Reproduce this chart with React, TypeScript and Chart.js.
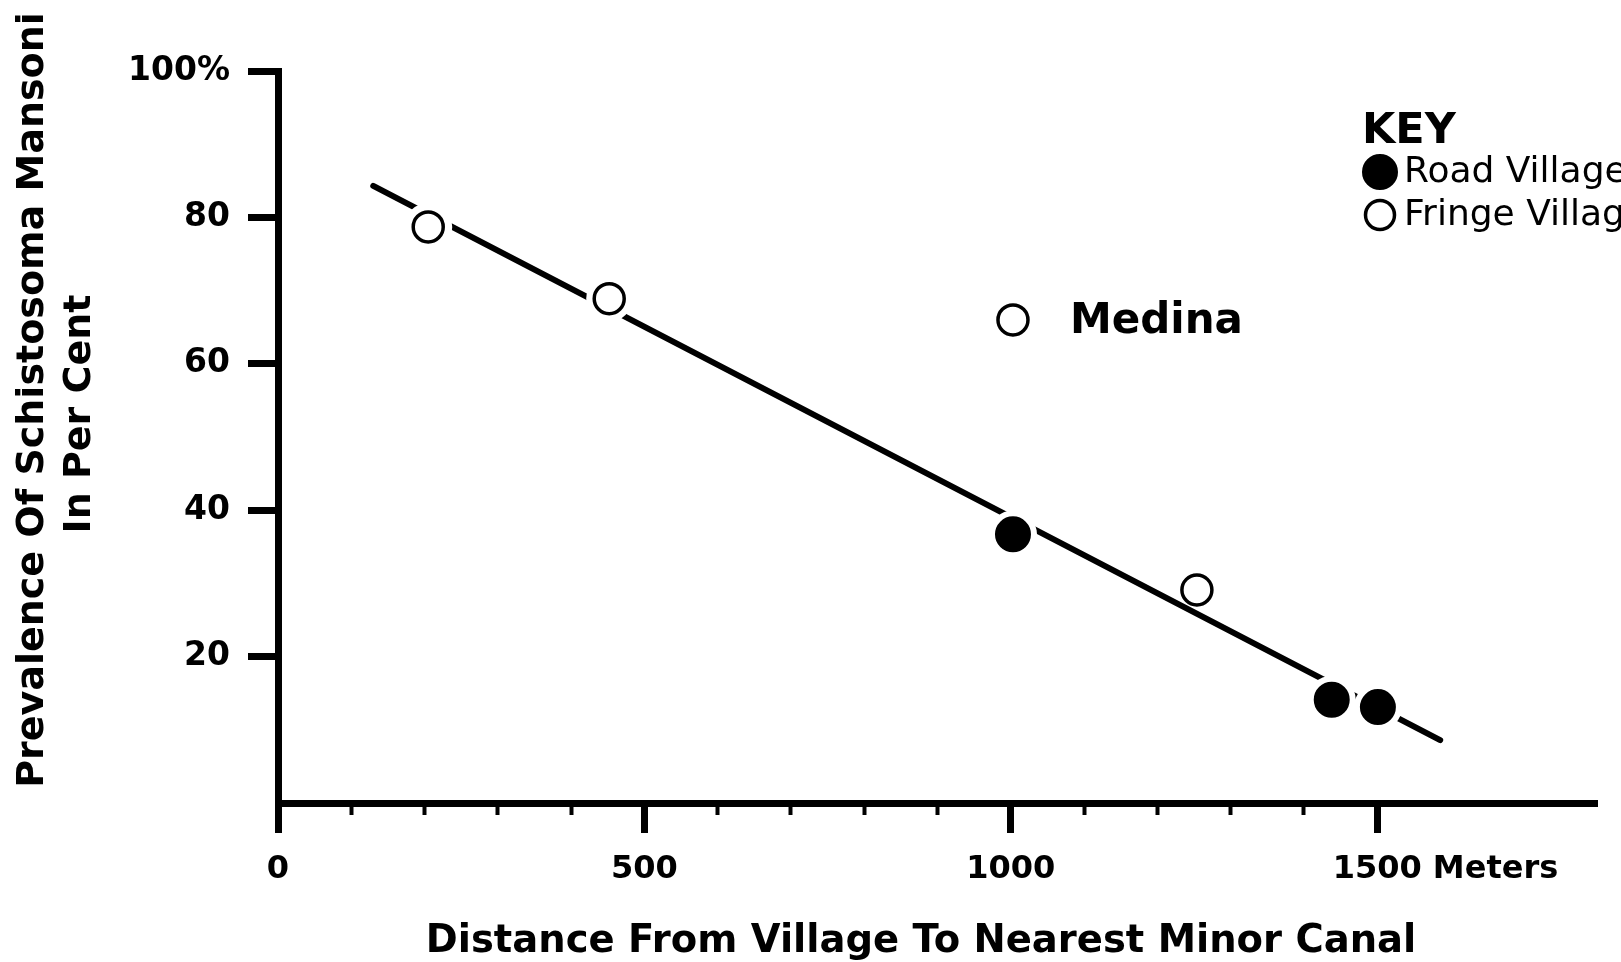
import React, { useEffect, useRef } from "react";
import { Chart, registerables } from "chart.js";

Chart.register(...registerables);

// ---- data ----
const fringeX = [205, 452, 1003, 1254];
const fringeY = [78.7, 68.9, 66.0, 29.1];
const roadX = [1003, 1438, 1501];
const roadY = [36.7, 14.1, 13.1];
const trendX = [130, 1586];
const trendY = [84.3, 8.6];
// halo radius (gap in the trend line) for each fringe point
const fringeGap = [24, 23, 0, 0];

const seriesLabels = ["Road Village", "Fringe Village"];
const xMajorTicks = [0, 500, 1000, 1500];
const xMinorStep = 100;
const yTickValues = [20, 40, 60, 80, 100];
const yTickLabels = ["20", "40", "60", "80", "100%"];
const xUnitTick = 1500;
const xUnit = "Meters";
const medinaIndex = 2;
const medinaLabel = "Medina";
const keyTitle = "KEY";
const xTitle = "Distance From Village To Nearest Minor Canal";
const yTitle = ["Prevalence Of Schistosoma Mansoni", "In Per Cent"];

const FONT = '"DejaVu Sans"';
const X_TICK_SIZE = 32;
const X_TICK_PAD = 17;

const toPts = (xs: number[], ys: number[]) => xs.map((x, i) => ({ x, y: ys[i] }));

const textPlugin = {
  id: "textPlugin",
  afterDraw(chart: any) {
    const { ctx } = chart;
    const xs = chart.scales.x;
    const ys = chart.scales.y;
    ctx.save();
    ctx.fillStyle = "#000";

    // unit after 1500
    ctx.font = `bold ${X_TICK_SIZE}px ${FONT}`;
    ctx.textBaseline = "middle";
    ctx.textAlign = "left";
    const px = xs.getPixelForValue(xUnitTick);
    const w = ctx.measureText(String(xUnitTick)).width;
    const ly = xs.top + 30 + X_TICK_PAD + (X_TICK_SIZE * 1.2) / 2;
    ctx.fillText(" " + xUnit, px + w / 2, ly);

    // Medina label
    ctx.font = `bold 42px ${FONT}`;
    ctx.fillText(
      medinaLabel,
      xs.getPixelForValue(fringeX[medinaIndex]) + 57,
      ys.getPixelForValue(fringeY[medinaIndex]) + 2
    );

    // x title
    ctx.textAlign = "center";
    ctx.textBaseline = "alphabetic";
    ctx.font = `bold 38.5px ${FONT}`;
    ctx.fillText(xTitle, 921, 952);

    // y title (rotated)
    ctx.font = `bold 38px ${FONT}`;
    const yCenters = [400, 414];
    const yBase = [43, 90];
    yTitle.forEach((t, i) => {
      ctx.save();
      ctx.translate(yBase[i], yCenters[i]);
      ctx.rotate(-Math.PI / 2);
      ctx.fillText(t, 0, 0);
      ctx.restore();
    });

    // KEY
    ctx.textAlign = "left";
    ctx.font = `bold 43px ${FONT}`;
    ctx.fillText(keyTitle, 1362, 143);

    const keyItems = chart.data.datasets.filter((d: any) => d.inKey);
    const rowY = [172, 215];
    ctx.font = `36px ${FONT}`;
    keyItems.forEach((d: any, i: number) => {
      const cy = rowY[i];
      ctx.beginPath();
      ctx.arc(1380, cy, d.keyRadius, 0, Math.PI * 2);
      ctx.fillStyle = d.pointBackgroundColor;
      ctx.fill();
      ctx.lineWidth = d.pointBorderWidth;
      ctx.strokeStyle = d.pointBorderColor;
      ctx.stroke();
      ctx.fillStyle = "#000";
      ctx.textBaseline = "middle";
      ctx.fillText(d.label, 1404, cy + 1);
    });

    ctx.restore();
  },
};

export default function App() {
  const ref = useRef<HTMLCanvasElement | null>(null);

  useEffect(() => {
    if (!ref.current) return;
    const black = "#000";
    const clear = "rgba(0,0,0,0)";
    const isMajor = (v: number) => xMajorTicks.includes(v);
    const chart = new Chart(ref.current, {
      type: "scatter",
      data: {
        datasets: [
          {
            label: seriesLabels[0],
            data: toPts(roadX, roadY),
            pointRadius: 17,
            pointBorderWidth: 2,
            pointBackgroundColor: black,
            pointBorderColor: black,
            order: 0,
            inKey: true,
            keyRadius: 17,
          } as any,
          {
            label: seriesLabels[1],
            data: toPts(fringeX, fringeY),
            pointRadius: 15,
            pointBorderWidth: 3.5,
            pointBackgroundColor: "#fff",
            pointBorderColor: black,
            order: 0,
            inKey: true,
            keyRadius: 14.5,
          } as any,
          {
            label: "gap-road",
            data: toPts(roadX, roadY),
            pointRadius: 24,
            pointBorderWidth: 0,
            pointBackgroundColor: "#fff",
            pointBorderColor: "#fff",
            order: 1,
          },
          {
            label: "gap-fringe",
            data: toPts(fringeX, fringeY),
            pointRadius: fringeGap,
            pointBorderWidth: 0,
            pointBackgroundColor: "#fff",
            pointBorderColor: "#fff",
            order: 1,
          },
          {
            label: "trend",
            data: toPts(trendX, trendY),
            showLine: true,
            borderColor: black,
            borderWidth: 6,
            borderCapStyle: "round",
            pointRadius: 0,
            order: 2,
          } as any,
        ],
      },
      options: {
        animation: false,
        responsive: false,
        events: [],
        layout: { padding: { top: 71, right: 24, left: 0, bottom: 0 } },
        plugins: { legend: { display: false }, tooltip: { enabled: false } },
        scales: {
          x: {
            type: "linear",
            position: "bottom",
            min: 0,
            max: 1800,
            ticks: {
              stepSize: xMinorStep,
              autoSkip: false,
              maxRotation: 0,
              minRotation: 0,
              padding: X_TICK_PAD,
              color: black,
              font: { family: "DejaVu Sans", size: X_TICK_SIZE, weight: "bold" },
              callback: (v: any) => (isMajor(Number(v)) ? String(v) : ""),
            },
            grid: {
              drawOnChartArea: false,
              tickLength: 30,
              tickWidth: (c: any) => (isMajor(c.tick?.value) ? 7 : 4),
              tickColor: (c: any) => {
                const v = c.tick?.value;
                if (isMajor(v)) return black;
                return v > 0 && v < xUnitTick ? black : clear;
              },
              tickBorderDash: (c: any) => (isMajor(c.tick?.value) ? [] : [8, 100]),
            },
            border: { display: true, color: black, width: 7 },
            afterFit: (s: any) => {
              s.height = 159;
            },
          },
          y: {
            type: "linear",
            position: "left",
            min: 0,
            max: 100,
            ticks: {
              stepSize: 20,
              padding: 18,
              color: black,
              font: { family: "DejaVu Sans", size: 33, weight: "bold" },
              callback: (v: any) => {
                const i = yTickValues.indexOf(Number(v));
                return i >= 0 ? yTickLabels[i] : "";
              },
            },
            grid: {
              drawOnChartArea: false,
              tickLength: 30,
              tickWidth: 7,
              tickColor: (c: any) => (yTickValues.includes(c.tick?.value) ? black : clear),
            },
            border: { display: true, color: black, width: 7 },
            afterFit: (s: any) => {
              s.width = 278;
            },
          },
        },
      } as any,
      plugins: [textPlugin],
    });
    return () => chart.destroy();
  }, []);

  return (
    <div style={{ position: "absolute", left: 0, top: 0, width: 1621, height: 962, background: "#fff" }}>
      <canvas ref={ref} width={1621} height={962} style={{ width: 1621, height: 962, display: "block" }} />
    </div>
  );
}
